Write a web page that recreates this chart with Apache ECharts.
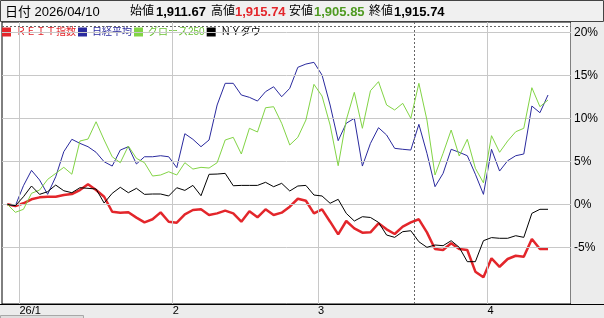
<!DOCTYPE html>
<html><head><meta charset="utf-8">
<script src="https://cdn.jsdelivr.net/npm/echarts@6/dist/echarts.min.js"></script>
<style>html,body{margin:0;padding:0;background:#fff}#c{width:604px;height:318px}</style>
</head><body><div id="c"></div>
<script>
// ---- data ----
const seriesNames = ['ＲＥＩＴ指数', '日経平均', 'グロース250', 'ＮＹダウ'];
const reit = [0, -0.2, 0.12, 0.58, 0.81, 0.88, 0.88, 1.08, 1.2, 1.66, 2.33, 1.66, 0.88, -0.86, -0.97, -0.93, -1.55, -2.1, -1.74, -0.93,
  -2.02, -2.14, -1.16, -0.66, -0.58, -1.24, -1.05, -0.74, -1.05, -2.02, -0.81, -1.51, -0.58, -1.24, -0.97, -0.27, 0.65, 0.42, -1.05, -0.58,
  -2.02, -3.49, -1.94, -2.79, -3.3, -3.26, -2.21, -2.91, -3.45, -2.6, -2.1, -1.74, -3.26, -5.2, -5.31, -4.53, -5.2, -5.31, -7.83, -8.49,
  -6.28, -7.26, -6.36, -5.98, -6.09, -4.03, -5.2, -5.2];
const nikkei = [0, -0.16, 2.16, 3.95, 2.83, 1.16, 3.21, 6.12, 7.56, 7.09, 6.7, 6.05, 4.95, 4.45, 6.31, 6.7, 4.69, 5.53, 5.53, 5.65,
  5.53, 4.26, 8.21, 7.56, 6.7, 7.48, 11.55, 14.07, 14.07, 12.71, 12.44, 12.01, 13.1, 13.67, 12.51, 13.49, 15.93, 16.31, 16.51, 15.03,
  11.55, 7.4, 9.42, 10.0, 4.45, 7.09, 8.91, 8.06, 6.51, 6.4, 6.31, 9.3, 5.93, 2.05, 3.6, 6.4, 6.05, 5.65, 3.5, 1.16,
  6.4, 3.87, 5.07, 5.65, 5.85, 11.43, 10.65, 12.71];
const growth250 = [0, -0.93, -0.58, 1.28, 1.66, 2.9, 3.6, 4.3, 3.5, 7.36, 7.59, 9.6, 7.48, 5.53, 4.84, 6.78, 5.35, 4.84, 3.29, 3.41,
  3.79, 3.41, 4.84, 4.1, 4.3, 4.22, 4.84, 7.48, 7.79, 5.85, 8.84, 8.41, 11.23, 11.35, 9.42, 6.9, 7.79, 9.8, 13.95, 12.59,
  9.22, 4.49, 9.8, 13.02, 8.84, 13.21, 14.26, 11.55, 10.97, 11.74, 10.0, 14.07, 9.8, 3.41, 5.93, 8.64, 5.62, 7.56, 4.19, 2.5,
  7.98, 6.05, 7.36, 8.44, 8.84, 13.56, 11.35, 12.13];
const nyDow = [0, -0.16, 0.88, 2.13, 1.16, 1.47, 2.24, 1.58, 1.35, 1.93, 1.86, 1.78, 0.15, 1.28, 1.98, 1.35, 1.86, 1.16, 1.2, 1.2,
  0.97, 1.93, 1.62, 2.2, 1.0, 3.49, 3.52, 3.6, 2.16, 2.2, 2.2, 2.2, 2.56, 2.05, 2.44, 1.55, 2.13, 2.2, 1.08, 0.97,
  0.12, 0.58, -1.05, -1.94, -1.44, -1.53, -2.1, -3.57, -3.84, -3.18, -3.07, -4.35, -5.0, -4.73, -4.81, -4.23, -5.0, -6.67, -6.67, -4.23,
  -3.87, -3.95, -3.95, -3.65, -3.84, -1.05, -0.58, -0.58];
const monthTicks = [1.5, 20.5, 38.5, 59.5];
const monthLabels = ['26/1', '2', '3', '4'];
const yTicks = [-5, 0, 5, 10, 15, 20];
const headerDateLabel = '日付 2026/04/10';
const ohlcLabels = ['始値', '高値', '安値', '終値'];
const ohlcValues = ['1,911.67', '1,915.74', '1,905.85', '1,915.74'];
const crosshairX = 50.4;
const crosshairY = 20.7;

// ---- styles ----
const FONT = "'Liberation Sans','Noto Sans CJK JP',sans-serif";
const lineColors = ['#e3262b', '#2a2a9e', '#82d445', '#000000'];
const legendTextColors = ['#e3262b', '#2a2a9e', '#6cc236', '#000000'];
const lineWidths = [2.5, 1, 1, 1];
const ohlcColors = ['#000000', '#e3262b', '#4f9a22', '#000000'];
const ohlcLabelX = [130, 211, 289, 369];
const ohlcValueX = [156, 235, 314, 394];

const allSeries = [reit, nikkei, growth250, nyDow];

const chart = echarts.init(document.getElementById('c'), null, {renderer: 'canvas'});

const graphics = [
  {type: 'rect', z: 0, shape: {x: 0.5, y: 0.5, width: 603, height: 21}, style: {fill: '#f0f0f0', stroke: '#444', lineWidth: 1}},
  {type: 'rect', z: 0, shape: {x: 571, y: 22, width: 33, height: 282}, style: {fill: '#ececec'}},
  {type: 'rect', z: 0, shape: {x: 0, y: 304, width: 604, height: 14}, style: {fill: '#ececec'}},
  {type: 'line', z: 5, shape: {x1: 0, y1: 304.5, x2: 604, y2: 304.5}, style: {stroke: '#000', lineWidth: 1}},
  {type: 'rect', z: 5, shape: {x: 0.5, y: 315.5, width: 83, height: 4}, style: {fill: '#dedede', stroke: '#a8a8a8', lineWidth: 1}},
  {type: 'text', z: 5, style: {text: headerDateLabel, x: 5, y: 12, font: "13px " + FONT, fill: '#000', verticalAlign: 'middle'}}
];
ohlcLabels.forEach((t, i) => {
  graphics.push({type: 'text', z: 5, style: {text: t, x: ohlcLabelX[i], y: 12, font: "12px " + FONT, fill: '#000', verticalAlign: 'middle'}});
  graphics.push({type: 'text', z: 5, style: {text: ohlcValues[i], x: ohlcValueX[i], y: 12, font: "bold 13px " + FONT, fill: ohlcColors[i], verticalAlign: 'middle'}});
});

const series = [
  {
    type: 'line', name: '_grid', data: [], silent: true, z: 1,
    markLine: {
      silent: true, symbol: ['none', 'none'], animation: false,
      label: {show: false},
      lineStyle: {color: '#c8c8c8', width: 1, type: 'solid'},
      emphasis: {disabled: true},
      data: yTicks.map(v => ({yAxis: v})).concat(monthTicks.map(v => ({xAxis: v})))
    }
  },
  {
    type: 'line', name: '_cross', data: [], silent: true, z: 1,
    markLine: {
      silent: true, symbol: ['none', 'none'], animation: false,
      label: {show: false},
      lineStyle: {color: '#666', width: 1, type: [2, 2]},
      emphasis: {disabled: true},
      data: [{xAxis: crosshairX}, {yAxis: crosshairY}]
    }
  }
];
allSeries.forEach((arr, k) => {
  series.push({
    type: 'line', name: seriesNames[k],
    data: arr.map((v, i) => [i, v]),
    color: lineColors[k],
    itemStyle: {color: lineColors[k]},
    showSymbol: false, symbol: 'none',
    lineStyle: {color: lineColors[k], width: lineWidths[k]},
    emphasis: {disabled: true},
    z: 3 + k
  });
});

chart.setOption({
  animation: false,
  textStyle: {fontFamily: FONT},
  grid: {left: 2, right: 33, top: 22, bottom: 14, show: true, backgroundColor: '#fff', borderColor: '#000', borderWidth: 1},
  xAxis: {
    type: 'value', min: -0.657, max: 69.85,
    splitLine: {show: false}, axisLine: {show: false}, axisTick: {show: false},
    axisLabel: {
      customValues: monthTicks,
      formatter: v => monthLabels[monthTicks.indexOf(v)],
      align: 'left', margin: 1, fontSize: 11, color: '#000', fontFamily: FONT
    }
  },
  yAxis: {
    type: 'value', position: 'right', min: -11.59, max: 21.2,
    splitLine: {show: false}, axisLine: {show: false}, axisTick: {show: false},
    axisLabel: {customValues: yTicks, formatter: '{value}%', margin: 3, fontSize: 12, color: '#000', fontFamily: FONT}
  },
  legend: {
    left: 2, top: 27, padding: 0, itemWidth: 9, itemHeight: 9, itemGap: 2, icon: 'rect', selectedMode: false,
    textStyle: {fontSize: 10, fontFamily: FONT},
    data: seriesNames.map((n, i) => ({name: n, textStyle: {color: legendTextColors[i]}}))
  },
  graphic: graphics,
  series: series
});
</script>
</body></html>
